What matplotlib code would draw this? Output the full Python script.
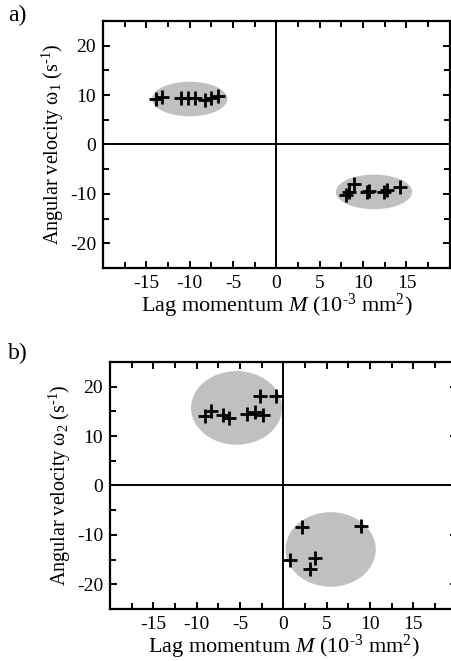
import matplotlib
matplotlib.use("Agg")
import matplotlib.pyplot as plt
from matplotlib.patches import Ellipse
from matplotlib.ticker import MultipleLocator

plt.rcParams["font.family"] = ["Liberation Serif", "DejaVu Serif"]
plt.rcParams["mathtext.fontset"] = "custom"
plt.rcParams["mathtext.rm"] = "Liberation Serif"
plt.rcParams["mathtext.it"] = "Liberation Serif:italic"
plt.rcParams["axes.unicode_minus"] = False

# ─── Data ─────────────────────────────────────────────────────────────
# panel a: two clusters
a_upper_x = [-13.9, -13.2, -11.0, -10.2, -9.4, -8.2, -7.6, -6.7]
a_upper_y = [9.2, 9.6, 9.5, 9.5, 9.5, 9.0, 9.4, 9.8]
a_lower_x = [8.0, 8.4, 8.9, 10.5, 10.7, 12.4, 12.7, 14.3]
a_lower_y = [-10.3, -9.6, -8.0, -9.7, -9.5, -9.6, -9.2, -8.7]
# grey ellipses: (centre x, centre y, width, height)
a_ellipses = [(-10.0, 9.2, 8.7, 7.0), (11.25, -9.6, 8.8, 7.0)]

# panel b
b_upper_x = [-9.0, -8.4, -7.0, -6.3, -4.2, -3.3, -2.4, -2.7, -0.8]
b_upper_y = [14.0, 15.0, 14.3, 13.6, 14.5, 14.8, 14.3, 18.2, 18.2]
b_lower_x = [0.8, 2.2, 3.7, 3.1, 8.9]
b_lower_y = [-15.1, -8.4, -14.6, -16.9, -8.2]
b_ellipses = [(-5.4, 15.7, 10.5, 14.9), (5.45, -12.95, 10.4, 15.1)]

x_label = r"Lag momentum $M$ (10$^{\text{-}3}$ mm$^{2}$)"


def _draw_panel(ax, ellipses, xs, ys, ylabel, tag, tag_xy):
    for cx, cy, w, h in ellipses:
        ax.add_patch(Ellipse((cx, cy), w, h, facecolor="#c0c0c0",
                             edgecolor="none", zorder=1))
    ax.axhline(0, color="black", lw=1.4, zorder=2)
    ax.axvline(0, color="black", lw=1.4, zorder=2)
    for x, y in zip(xs, ys):
        ax.plot(x, y, linestyle="none", marker="+", color="black",
                markersize=10, markeredgewidth=2.0, zorder=3)
    ax.set_xlim(-20, 20)
    ax.set_ylim(-25, 25)
    ax.set_xticks([-15, -10, -5, 0, 5, 10, 15])
    ax.set_yticks([-20, -10, 0, 10, 20])
    ax.xaxis.set_minor_locator(MultipleLocator(2.5))
    ax.yaxis.set_minor_locator(MultipleLocator(5))
    ax.tick_params(which="both", direction="in", top=True, right=True,
                   labelsize=14, width=1.4)
    ax.tick_params(which="major", length=5, pad=5)
    ax.tick_params(which="minor", length=4)
    for s in ax.spines.values():
        s.set_linewidth(1.6)
    ax.set_xlabel(x_label, fontsize=16, labelpad=0)
    ax.set_ylabel(ylabel, fontsize=14.5, labelpad=3)
    ax.text(tag_xy[0], tag_xy[1], tag, transform=ax.transAxes, fontsize=17,
            ha="left", va="center")


fig = plt.figure(figsize=(4.51, 6.61), dpi=100)
ax_a = fig.add_axes([0.2284, 0.5946, 0.769, 0.3737])
ax_b = fig.add_axes([0.2439, 0.0787, 0.769, 0.3737])

_draw_panel(ax_a, a_ellipses, a_upper_x + a_lower_x, a_upper_y + a_lower_y,
            r"Angular velocity ω$_{1}$ (s$^{\text{-}1}$)", "a)", (-0.274, 1.024))
_draw_panel(ax_b, b_ellipses, b_upper_x + b_lower_x, b_upper_y + b_lower_y,
            r"Angular velocity ω$_{2}$ (s$^{\text{-}1}$)", "b)", (-0.294, 1.036))

fig.savefig("out.png", dpi=100)
